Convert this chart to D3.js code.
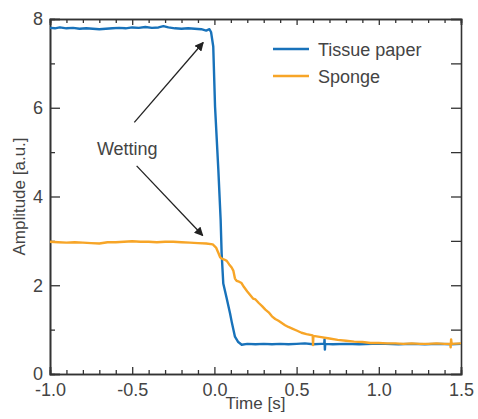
<!DOCTYPE html>
<head>
  <meta charset="utf-8">
  <script src="https://d3js.org/d3.v7.min.js"></script>
  <style type="text/css">
    body { margin: 0; }
    * { font-family: "Liberation Sans", Arial, sans-serif; }
  </style>
</head>
<body>
<div id="my_dataviz"></div>
<script>

// time [s] and amplitude [a.u.]
var tissueT = [-1.00, -0.97, -0.94, -0.90, -0.86, -0.82, -0.78, -0.74, -0.70, -0.66, -0.62, -0.58,
  -0.54, -0.50, -0.46, -0.42, -0.38, -0.34, -0.31, -0.28, -0.24, -0.20, -0.16, -0.12, -0.08,
  -0.05, -0.03, -0.02, -0.007, 0.004, 0.024, 0.038, 0.044, 0.054, 0.075, 0.095, 0.105, 0.125,
  0.145, 0.166, 0.20, 0.25, 0.30, 0.35, 0.40, 0.45, 0.50, 0.55, 0.60, 0.65, 0.668, 0.670, 0.672,
  0.674, 0.72, 0.80, 0.88, 0.96, 1.04, 1.12, 1.20, 1.28, 1.36, 1.44, 1.50];
var tissueV = [7.80, 7.79, 7.81, 7.79, 7.80, 7.78, 7.79, 7.78, 7.77, 7.78, 7.79, 7.80,
  7.79, 7.81, 7.80, 7.82, 7.80, 7.81, 7.84, 7.81, 7.79, 7.78, 7.79, 7.78, 7.77,
  7.74, 7.77, 7.70, 7.38, 6.02, 4.60, 3.47, 2.72, 2.04, 1.70, 1.37, 1.18, 0.84,
  0.72, 0.66, 0.68, 0.67, 0.68, 0.67, 0.68, 0.67, 0.68, 0.69, 0.67, 0.68, 0.68, 0.78, 0.55,
  0.68, 0.67, 0.68, 0.67, 0.68, 0.68, 0.67, 0.68, 0.67, 0.68, 0.67, 0.68];

var spongeT = [-1.00, -0.95, -0.90, -0.85, -0.80, -0.75, -0.70, -0.65, -0.60, -0.55, -0.50,
  -0.45, -0.40, -0.35, -0.30, -0.25, -0.20, -0.15, -0.10, -0.05, -0.01, 0.01, 0.025, 0.035,
  0.045, 0.06, 0.075, 0.09, 0.105, 0.115, 0.125, 0.135, 0.15, 0.165, 0.18, 0.20, 0.22, 0.235,
  0.25, 0.27, 0.29, 0.31, 0.33, 0.35, 0.37, 0.39, 0.41, 0.43, 0.45, 0.47, 0.50, 0.53, 0.56,
  0.598, 0.600, 0.602, 0.65, 0.70, 0.75, 0.80, 0.85, 0.90, 0.95, 1.00, 1.05, 1.10, 1.15, 1.20,
  1.25, 1.30, 1.35, 1.40, 1.435, 1.437, 1.440, 1.443, 1.50];
var spongeV = [2.98, 2.97, 2.96, 2.97, 2.96, 2.95, 2.94, 2.97, 2.97, 2.98, 2.99,
  2.98, 2.98, 2.97, 2.98, 2.98, 2.97, 2.96, 2.95, 2.94, 2.92, 2.85, 2.72, 2.63,
  2.60, 2.58, 2.55, 2.47, 2.40, 2.33, 2.15, 2.10, 2.08, 2.05, 1.96, 1.86, 1.77, 1.70,
  1.68, 1.60, 1.53, 1.45, 1.39, 1.30, 1.24, 1.20, 1.15, 1.10, 1.06, 1.03, 0.98, 0.93, 0.90,
  0.87, 0.65, 0.86, 0.83, 0.80, 0.77, 0.75, 0.73, 0.72, 0.70, 0.70, 0.69, 0.69, 0.68, 0.69,
  0.68, 0.68, 0.69, 0.68, 0.68, 0.60, 0.78, 0.68, 0.69];

var seriesNames = ["Tissue paper", "Sponge"];
var seriesColors = ["#1872ba", "#f7a527"];

var xMajor = [-1.0, -0.5, 0.0, 0.5, 1.0, 1.5];
var xMinor = [-0.9, -0.8, -0.7, -0.6, -0.4, -0.3, -0.2, -0.1, 0.1, 0.2, 0.3, 0.4, 0.6, 0.7, 0.8, 0.9, 1.1, 1.2, 1.3, 1.4];
var yMajor = [0, 2, 4, 6, 8];
var yMinor = [1, 3, 5, 7];

// annotation: label position and arrow [start, tip] in data units
var wettingLabel = [-0.53, 4.94];
var arrows = [
  [[-0.487, 5.67], [-0.068, 7.47]],
  [[-0.473, 4.69], [-0.071, 3.12]]
];

var margin = {top: 19, right: 17, bottom: 45, left: 50},
    width = 478 - margin.left - margin.right,
    height = 419 - margin.top - margin.bottom;

var textColor = "#444";
var axisColor = "#333";

var svg = d3.select("#my_dataviz")
  .append("svg")
    .attr("width", width + margin.left + margin.right)
    .attr("height", height + margin.top + margin.bottom)
  .append("g")
    .attr("transform", "translate(" + margin.left + "," + margin.top + ")");

var x = d3.scaleLinear().domain([-1.0, 1.5]).range([0, width]);
var y = d3.scaleLinear().domain([0, 8]).range([height, 0]);

// axes: major + minor ticks, all pointing inward
function styleAxis(g) {
  g.select(".domain").attr("stroke", axisColor).attr("stroke-width", 1.6);
  g.selectAll(".tick line").attr("stroke", axisColor).attr("stroke-width", 1.3);
  g.selectAll(".tick text").attr("fill", textColor).style("font-size", "18px");
}

svg.append("g")
  .attr("transform", "translate(0," + height + ")")
  .call(d3.axisBottom(x).tickValues(xMajor).tickSize(-7).tickPadding(9)
    .tickFormat(function(d) { return d.toFixed(1); }))
  .call(styleAxis);
svg.append("g")
  .attr("transform", "translate(0," + height + ")")
  .call(d3.axisBottom(x).tickValues(xMinor).tickSize(-4).tickFormat(""))
  .call(styleAxis);
svg.append("g")
  .call(d3.axisTop(x).tickValues(xMajor).tickSize(-6).tickFormat(""))
  .call(styleAxis);
svg.append("g")
  .call(d3.axisTop(x).tickValues(xMinor).tickSize(-4).tickFormat(""))
  .call(styleAxis);

svg.append("g")
  .call(d3.axisLeft(y).tickValues(yMajor).tickSize(-10).tickPadding(7).tickFormat(d3.format("d")))
  .call(styleAxis);
svg.append("g")
  .call(d3.axisLeft(y).tickValues(yMinor).tickSize(-5).tickFormat(""))
  .call(styleAxis);
svg.append("g")
  .attr("transform", "translate(" + width + ",0)")
  .call(d3.axisRight(y).tickValues(yMajor.concat(yMinor)).tickSize(-10).tickFormat(""))
  .call(styleAxis);

// axis titles
svg.append("text")
  .attr("x", x(0.25))
  .attr("y", height + 35)
  .attr("text-anchor", "middle")
  .attr("fill", textColor)
  .style("font-size", "17px")
  .text("Time [s]");
svg.append("text")
  .attr("transform", "translate(-25," + y(4) + ") rotate(-90)")
  .attr("text-anchor", "middle")
  .attr("fill", textColor)
  .style("font-size", "17px")
  .text("Amplitude [a.u.]");

// lines
var line = d3.line()
  .x(function(d) { return x(d[0]); })
  .y(function(d) { return y(d[1]); });

var series = [
  d3.zip(tissueT, tissueV),
  d3.zip(spongeT, spongeV)
];

svg.selectAll("myLines")
  .data(series)
  .enter()
  .append("path")
    .attr("d", line)
    .attr("fill", "none")
    .attr("stroke", function(d, i) { return seriesColors[i]; })
    .attr("stroke-width", 2.4)
    .attr("stroke-linejoin", "round");

// annotation
svg.append("defs").append("marker")
    .attr("id", "arrowhead")
    .attr("viewBox", "0 0 10 10")
    .attr("refX", 9)
    .attr("refY", 5)
    .attr("markerWidth", 9)
    .attr("markerHeight", 9)
    .attr("markerUnits", "userSpaceOnUse")
    .attr("orient", "auto")
  .append("path")
    .attr("d", "M0,0 L10,5 L0,10 z")
    .attr("fill", "#222");

svg.selectAll("myArrows")
  .data(arrows)
  .enter()
  .append("line")
    .attr("x1", function(d) { return x(d[0][0]); })
    .attr("y1", function(d) { return y(d[0][1]); })
    .attr("x2", function(d) { return x(d[1][0]); })
    .attr("y2", function(d) { return y(d[1][1]); })
    .attr("stroke", "#222")
    .attr("stroke-width", 1.3)
    .attr("marker-end", "url(#arrowhead)");

svg.append("text")
  .attr("x", x(wettingLabel[0]))
  .attr("y", y(wettingLabel[1]))
  .attr("text-anchor", "middle")
  .attr("fill", textColor)
  .style("font-size", "18px")
  .text("Wetting");

// legend
var legend = svg.selectAll("myLegend")
  .data(seriesNames)
  .enter()
  .append("g")
    .attr("transform", function(d, i) { return "translate(223," + (30 + i * 27) + ")"; });
legend.append("line")
  .attr("x1", 0).attr("x2", 36)
  .attr("stroke", function(d, i) { return seriesColors[i]; })
  .attr("stroke-width", 2.4);
legend.append("text")
  .attr("x", 45)
  .attr("y", 7)
  .attr("fill", textColor)
  .style("font-size", "18px")
  .text(function(d) { return d; });

</script>
</body>
</html>
